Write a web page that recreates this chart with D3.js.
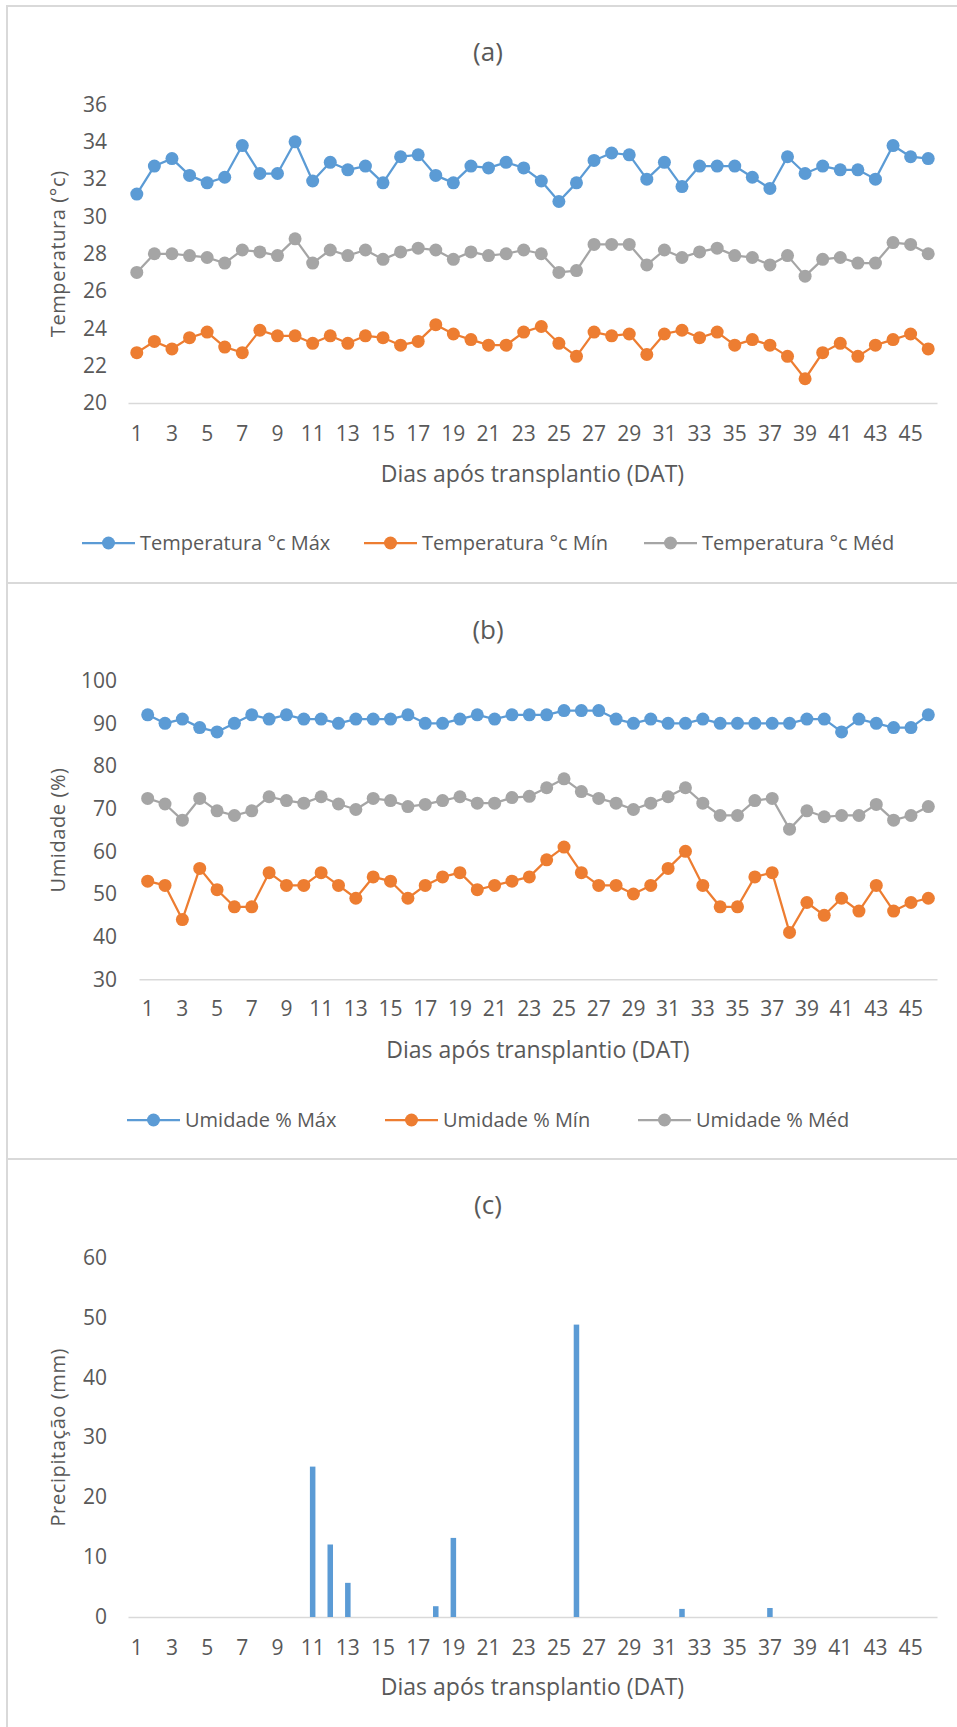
<!DOCTYPE html>
<html>
<head>
<meta charset="utf-8">
<script src="https://cdn.jsdelivr.net/npm/d3@7"></script>
<style>
body { margin: 0; background: #fff; }
svg text { font-family: "Open Sans", sans-serif; fill: #595959; }
</style>
</head>
<body>
<svg id="chart" width="957" height="1727"></svg>
<script>
// days after transplant (categories)
var days = [1, 2, 3, 4, 5, 6, 7, 8, 9, 10, 11, 12, 13, 14, 15, 16, 17, 18, 19, 20, 21, 22, 23,
    24, 25, 26, 27, 28, 29, 30, 31, 32, 33, 34, 35, 36, 37, 38, 39, 40, 41, 42, 43, 44, 45, 46];

// (a) temperature
var tempMax = [31.2, 32.7, 33.1, 32.2, 31.8, 32.1, 33.8, 32.3, 32.3, 34.0,
    31.9, 32.9, 32.5, 32.7, 31.8, 33.2, 33.3, 32.2, 31.8, 32.7,
    32.6, 32.9, 32.6, 31.9, 30.8, 31.8, 33.0, 33.4, 33.3, 32.0,
    32.9, 31.6, 32.7, 32.7, 32.7, 32.1, 31.5, 33.2, 32.3, 32.7,
    32.5, 32.5, 32.0, 33.8, 33.2, 33.1];
var tempMin = [22.7, 23.3, 22.9, 23.5, 23.8, 23.0, 22.7, 23.9, 23.6, 23.6,
    23.2, 23.6, 23.2, 23.6, 23.5, 23.1, 23.3, 24.2, 23.7, 23.4,
    23.1, 23.1, 23.8, 24.1, 23.2, 22.5, 23.8, 23.6, 23.7, 22.6,
    23.7, 23.9, 23.5, 23.8, 23.1, 23.4, 23.1, 22.5, 21.3, 22.7,
    23.2, 22.5, 23.1, 23.4, 23.7, 22.9];
var tempMed = [27.0, 28.0, 28.0, 27.9, 27.8, 27.5, 28.2, 28.1, 27.9, 28.8,
    27.5, 28.2, 27.9, 28.2, 27.7, 28.1, 28.3, 28.2, 27.7, 28.1,
    27.9, 28.0, 28.2, 28.0, 27.0, 27.1, 28.5, 28.5, 28.5, 27.4,
    28.2, 27.8, 28.1, 28.3, 27.9, 27.8, 27.4, 27.9, 26.8, 27.7,
    27.8, 27.5, 27.5, 28.6, 28.5, 28.0];
var tempTicks = [20, 22, 24, 26, 28, 30, 32, 34, 36];

// (b) relative humidity
var humMax = [92, 90, 91, 89, 88, 90, 92, 91, 92, 91,
    91, 90, 91, 91, 91, 92, 90, 90, 91, 92,
    91, 92, 92, 92, 93, 93, 93, 91, 90, 91,
    90, 90, 91, 90, 90, 90, 90, 90, 91, 91,
    88, 91, 90, 89, 89, 92];
var humMin = [53, 52, 44, 56, 51, 47, 47, 55, 52, 52,
    55, 52, 49, 54, 53, 49, 52, 54, 55, 51,
    52, 53, 54, 58, 61, 55, 52, 52, 50, 52,
    56, 60, 52, 47, 47, 54, 55, 41, 48, 45,
    49, 46, 52, 46, 48, 49];
var humMed = [72.4, 71.1, 67.3, 72.4, 69.5, 68.4, 69.5, 72.8, 71.9, 71.3,
    72.8, 71.1, 69.8, 72.4, 71.9, 70.5, 71.0, 71.9, 72.8, 71.3,
    71.3, 72.6, 72.9, 74.9, 77.0, 74.0, 72.4, 71.3, 69.8, 71.3,
    72.8, 74.9, 71.3, 68.4, 68.4, 71.9, 72.4, 65.2, 69.5, 68.1,
    68.4, 68.4, 71.0, 67.3, 68.4, 70.5];
var humTicks = [30, 40, 50, 60, 70, 80, 90, 100];

// (c) rainfall
var precip = [0, 0, 0, 0, 0, 0, 0, 0, 0, 0,
    25.1, 12.1, 5.7, 0, 0, 0, 0, 1.8, 13.2, 0,
    0, 0, 0, 0, 0, 48.8, 0, 0, 0, 0,
    0, 1.35, 0, 0, 0, 0, 1.5, 0, 0, 0,
    0, 0, 0, 0, 0, 0];
var precipTicks = [0, 10, 20, 30, 40, 50, 60];

var BLUE = '#5b9bd5', ORANGE = '#ed7d31', GRAY = '#a5a5a5';
var xTitle = 'Dias após transplantio (DAT)';

var svg = d3.select('#chart');

// panel frames
svg.append('path')
    .attr('d', 'M7,1727V6H957M7,583H957M7,1159H957')
    .attr('fill', 'none')
    .attr('stroke', '#d9d9d9')
    .attr('stroke-width', 2);

function drawPanel(p) {
    var g = svg.append('g');

    var x = d3.scaleBand().domain(days).range([p.left, 937]);
    var y = d3.scaleLinear().domain(p.domain).range([p.bottom, p.top]);
    var bw = x.bandwidth();

    g.append('text')
        .attr('x', 488).attr('y', p.titleY).attr('dy', '0.35em')
        .attr('text-anchor', 'middle').attr('font-size', 26)
        .text(p.title);

    var ya = g.append('g')
        .attr('transform', 'translate(' + p.left + ',0)')
        .call(d3.axisLeft(y).tickValues(p.ticks).tickSize(0).tickPadding(p.left - p.labelRight))
        .attr('font-size', 21);
    ya.select('.domain').remove();

    var xa = g.append('g')
        .attr('transform', 'translate(0,' + p.bottom + ')')
        .call(d3.axisBottom(x).tickSize(0).tickSizeOuter(0).tickPadding(p.xPad)
            .tickFormat(function (d) { return d % 2 ? d : ''; }))
        .attr('font-size', 21);
    xa.select('.domain').attr('stroke', '#d9d9d9').attr('stroke-width', 1.5);

    g.append('text')
        .attr('x', (p.left + 937) / 2).attr('y', p.xTitleY).attr('dy', '0.35em')
        .attr('text-anchor', 'middle').attr('font-size', 23)
        .text(xTitle);

    g.append('text')
        .attr('transform', 'translate(58,' + (p.top + p.bottom) / 2 + ') rotate(-90)')
        .attr('dy', '0.35em')
        .attr('text-anchor', 'middle').attr('font-size', 20)
        .attr('letter-spacing', 0.6)
        .text(p.yTitle);

    if (p.bars) {
        var barW = bw / 3.19;
        g.selectAll('rect.bar')
            .data(p.bars)
            .enter().append('rect')
            .attr('class', 'bar')
            .attr('x', function (d, i) { return x(days[i]) + (bw - barW) / 2; })
            .attr('width', barW)
            .attr('y', function (d) { return y(d); })
            .attr('height', function (d) { return p.bottom - y(d); })
            .attr('fill', BLUE);
    }

    (p.series || []).forEach(function (s) {
        var line = d3.line()
            .x(function (d, i) { return x(days[i]) + bw / 2; })
            .y(function (d) { return y(d); });
        g.append('path')
            .datum(s.values)
            .attr('fill', 'none')
            .attr('stroke', s.color)
            .attr('stroke-width', 2.25)
            .attr('stroke-linejoin', 'round')
            .attr('d', line);
        g.selectAll(null)
            .data(s.values)
            .enter().append('circle')
            .attr('cx', function (d, i) { return x(days[i]) + bw / 2; })
            .attr('cy', function (d) { return y(d); })
            .attr('r', 6.5)
            .attr('fill', s.color);

        // legend entry
        g.append('line')
            .attr('x1', s.lx).attr('x2', s.lx + 53)
            .attr('y1', p.legendY).attr('y2', p.legendY)
            .attr('stroke', s.color).attr('stroke-width', 2.25);
        g.append('circle')
            .attr('cx', s.lx + 26.5).attr('cy', p.legendY)
            .attr('r', 6.5).attr('fill', s.color);
        g.append('text')
            .attr('x', s.lx + 58).attr('y', p.legendY).attr('dy', '0.35em')
            .attr('font-size', 20)
            .text(s.name);
    });
}

drawPanel({
    title: '(a)', titleY: 52,
    left: 128, labelRight: 107, top: 104.5, bottom: 403,
    domain: [20, 36], ticks: tempTicks,
    xPad: 23, xTitleY: 474, legendY: 543,
    yTitle: 'Temperatura (°c)',
    series: [
        {name: 'Temperatura °c Máx', values: tempMax, color: BLUE, lx: 82},
        {name: 'Temperatura °c Mín', values: tempMin, color: ORANGE, lx: 364},
        {name: 'Temperatura °c Méd', values: tempMed, color: GRAY, lx: 644}
    ]
});

drawPanel({
    title: '(b)', titleY: 630,
    left: 139, labelRight: 117, top: 680.7, bottom: 979.3,
    domain: [30, 100], ticks: humTicks,
    xPad: 22, xTitleY: 1050, legendY: 1120,
    yTitle: 'Umidade (%)',
    series: [
        {name: 'Umidade % Máx', values: humMax, color: BLUE, lx: 127},
        {name: 'Umidade % Mín', values: humMin, color: ORANGE, lx: 385},
        {name: 'Umidade % Méd', values: humMed, color: GRAY, lx: 638}
    ]
});

drawPanel({
    title: '(c)', titleY: 1205,
    left: 128, labelRight: 107, top: 1257.5, bottom: 1617,
    domain: [0, 60], ticks: precipTicks,
    xPad: 23, xTitleY: 1687,
    yTitle: 'Precipitação (mm)',
    bars: precip
});
</script>
</body>
</html>
